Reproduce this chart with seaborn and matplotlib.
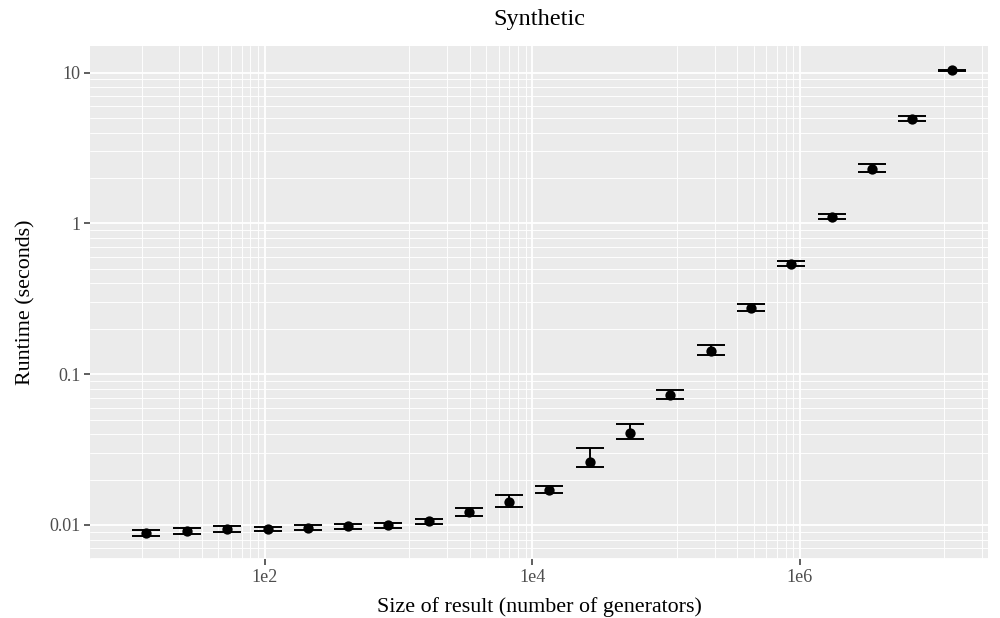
import numpy as np
import pandas as pd
import matplotlib
matplotlib.use("Agg")
import matplotlib.pyplot as plt
from matplotlib.ticker import FixedLocator, NullFormatter
import seaborn as sns

## data
sizes = [13, 26, 52, 105, 210, 420, 840, 1680, 3360, 6710, 13400, 26800,
         53700, 107000, 215000, 429000, 859000, 1720000, 3440000, 6870000, 13700000]
runtime = [0.00881, 0.00912, 0.00941, 0.00941, 0.0096, 0.0098, 0.0100, 0.01058,
           0.01214, 0.01414, 0.01706, 0.02617, 0.0406, 0.0725, 0.1425, 0.2735,
           0.541, 1.103, 2.306, 4.94, 10.4]
runtime_lo = [0.00845, 0.00872, 0.00903, 0.00908, 0.00927, 0.00945, 0.00951, 0.01015,
              0.01152, 0.01323, 0.01638, 0.0242, 0.0372, 0.0682, 0.134, 0.2634,
              0.520, 1.064, 2.19, 4.76, 10.25]
runtime_hi = [0.00927, 0.00951, 0.0098, 0.0097, 0.00995, 0.01015, 0.01036, 0.01096,
              0.01290, 0.01581, 0.01814, 0.0326, 0.0464, 0.0783, 0.157, 0.2919,
              0.564, 1.148, 2.485, 5.14, 10.45]

x_ticks = [1e2, 1e4, 1e6]
x_labels = ["1e2", "1e4", "1e6"]
y_ticks = [0.01, 0.1, 1, 10]
y_labels = ["0.01", "0.1", "1", "10"]
#breaks used for the minor grid (one more break on each side)
x_breaks = [1e0, 1e2, 1e4, 1e6, 1e8]
y_breaks = [0.001, 0.01, 0.1, 1, 10]

df = pd.DataFrame({"size": sizes, "runtime": runtime, "lo": runtime_lo, "hi": runtime_hi})

##minor breaks: evenly spaced (linear) between consecutive major breaks
def linear_minor(major):
    out = []
    for a, b in zip(major[:-1], major[1:]):
        out += list(np.linspace(a, b, 10)[1:-1])
    return out

sns.set_theme(style="darkgrid")
plt.rcParams['font.family'] = ['Liberation Serif', 'DejaVu Serif']

fig = plt.figure(figsize=(10, 6.18), dpi=100)
ax = fig.add_axes([0.090, 1 - 559/618, 0.898, (559 - 46)/618])
ax.set_facecolor("#EBEBEB")

ax.errorbar(df["size"], df["runtime"],
            yerr=[df["runtime"] - df["lo"], df["hi"] - df["runtime"]],
            fmt="none", ecolor="black", elinewidth=1.4, capsize=10, capthick=1.4, zorder=3)
sns.scatterplot(data=df, x="size", y="runtime", color="black", s=55,
                edgecolor="black", linewidth=0, ax=ax, zorder=4)

ax.set_xscale("log")
ax.set_yscale("log")
ax.set_xlim(4.94, 2.54e7)
ax.set_ylim(0.00595, 15.0)

ax.xaxis.set_major_locator(FixedLocator(x_ticks))
ax.set_xticklabels(x_labels)
ax.yaxis.set_major_locator(FixedLocator(y_ticks))
ax.set_yticklabels(y_labels)
ax.xaxis.set_minor_locator(FixedLocator(linear_minor(x_breaks)))
ax.yaxis.set_minor_locator(FixedLocator(linear_minor(y_breaks)))
ax.xaxis.set_minor_formatter(NullFormatter())
ax.yaxis.set_minor_formatter(NullFormatter())

ax.grid(which="major", color="white", linewidth=1.3)
ax.grid(which="minor", color="white", linewidth=0.65)
ax.set_axisbelow(True)
ax.tick_params(which="major", length=4, width=1.1, color="#333333",
               labelsize=13, labelcolor="#4D4D4D", pad=3, bottom=True, left=True)
ax.tick_params(which="minor", length=0)
for s in ax.spines.values():
    s.set_visible(False)

ax.set_xlabel("Size of result (number of generators)", fontsize=15.8, color="black", labelpad=8)
ax.set_ylabel("Runtime (seconds)", fontsize=15.8, color="black", labelpad=10)
ax.set_title("Synthetic", fontsize=17.5, color="black", pad=15)

fig.savefig("out.png", dpi=100)
